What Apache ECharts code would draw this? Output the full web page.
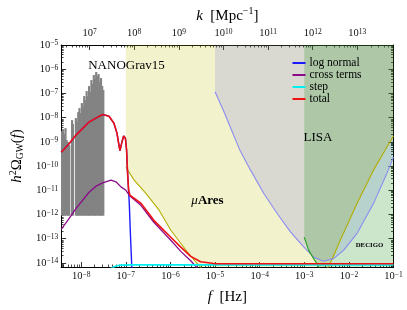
<!DOCTYPE html>
<html><head><meta charset="utf-8">
<script src="https://cdn.jsdelivr.net/npm/echarts@6/dist/echarts.min.js"></script>
<style>html,body{margin:0;padding:0;background:#fff}#c{width:407px;height:310px}</style>
</head><body><div id="c"></div>
<script>
// ---------------- data ----------------
const fRange = [3.55e-9, 0.1];
const omegaRange = [6.8e-15, 1e-5];
const kPerHz = 6.47e14; // k [Mpc^-1] = kPerHz * f [Hz]

const fTicks = [1e-8, 1e-7, 1e-6, 1e-5, 1e-4, 1e-3, 1e-2, 1e-1];
const kTicks = [1e7, 1e8, 1e9, 1e10, 1e11, 1e12, 1e13];
const omegaTicks = [1e-14, 1e-13, 1e-12, 1e-11, 1e-10, 1e-9, 1e-8, 1e-7, 1e-6, 1e-5];

const legendNames = ['log normal', 'cross terms', 'step', 'total'];

const totalF = [3.55e-9, 5.0e-9, 7.67e-9, 1.50e-8, 2.24e-8, 3.03e-8, 4.20e-8, 5.42e-8, 6.32e-8, 7.38e-8, 8.18e-8, 8.93e-8, 9.79e-8, 1.04e-7, 1.096e-7, 1.156e-7, 1.236e-7, 1.44e-7, 2.18e-7, 4.25e-7, 1.02e-6, 1.71e-6, 2.85e-6, 4.76e-6, 1.03e-5, 1.05e-4, 0.1];
const totalOmega = [3.7e-10, 7.2e-10, 1.9e-9, 6.6e-9, 1.0e-8, 1.35e-8, 1.15e-8, 5.9e-9, 2.3e-9, 4.3e-10, 9.8e-10, 1.74e-9, 1.41e-9, 4.6e-10, 5.1e-11, 1.0e-11, 6.3e-12, 5.1e-12, 2.95e-12, 5.75e-13, 1.15e-13, 4.5e-14, 1.86e-14, 1.12e-14, 9.3e-15, 9.3e-15, 9.3e-15];

const logNormalF = [3.55e-9, 5.0e-9, 7.67e-9, 1.50e-8, 2.24e-8, 3.03e-8, 4.20e-8, 5.42e-8, 6.32e-8, 7.38e-8, 8.18e-8, 8.93e-8, 9.79e-8, 1.04e-7, 1.096e-7, 1.156e-7, 1.20e-7, 1.25e-7, 1.30e-7, 1.35e-7, 1.40e-7];
const logNormalOmega = [3.7e-10, 7.2e-10, 1.9e-9, 6.6e-9, 1.0e-8, 1.35e-8, 1.15e-8, 5.9e-9, 2.3e-9, 4.3e-10, 9.8e-10, 1.74e-9, 1.41e-9, 4.6e-10, 5.1e-11, 9.5e-12, 2.5e-12, 3.2e-13, 5.0e-14, 1.0e-14, 1.6e-15];

const crossF = [3.55e-9, 5.01e-9, 7.67e-9, 1.52e-8, 2.15e-8, 3.03e-8, 4.65e-8, 6.01e-8, 7.78e-8, 1.007e-7, 1.236e-7, 2.18e-7, 4.25e-7, 1.02e-6, 1.71e-6, 2.85e-6, 4.08e-6, 7.98e-6];
const crossOmega = [2.45e-13, 5.75e-13, 1.78e-12, 8.5e-12, 1.48e-11, 2.04e-11, 2.63e-11, 2.24e-11, 1.38e-11, 1.0e-11, 5.8e-12, 2.4e-12, 4.8e-13, 8.7e-14, 3.0e-14, 1.23e-14, 6.0e-15, 1.2e-15];

const stepF = [2.78e-8, 4.65e-8, 5.15e-8, 6.32e-8, 7.78e-8, 1.30e-7, 0.1];
const stepOmega = [3.2e-15, 6.0e-15, 6.8e-15, 7.6e-15, 8.1e-15, 8.3e-15, 8.3e-15];

const muAresF = [1.0e-7, 1.54e-7, 2.82e-7, 5.58e-7, 1.02e-6, 2.40e-6, 3.69e-6, 4.76e-6, 1.0e-5, 1.0e-4, 1.0e-3, 3.52e-3, 6.41e-3, 1.51e-2, 3.56e-2, 6.5e-2, 0.1];
const muAresOmega = [8.9e-11, 2.63e-11, 7.4e-12, 1.51e-12, 2.24e-13, 2.82e-14, 1.10e-14, 6.6e-15, 2.5e-15, 1.2e-15, 1.5e-15, 6.8e-15, 8.7e-14, 2.8e-12, 6.8e-11, 4.6e-10, 1.74e-9];

const lisaF = [1.0e-5, 1.585e-5, 2.44e-5, 3.51e-5, 6.25e-5, 1.24e-4, 2.47e-4, 4.90e-4, 9.70e-4, 1.62e-3, 2.72e-3, 4.54e-3, 7.59e-3, 1.51e-2, 3.56e-2, 7.08e-2, 0.1];
const lisaOmega = [1.17e-7, 1.74e-8, 2.57e-9, 5.0e-10, 6.8e-11, 7.4e-12, 1.10e-12, 1.91e-13, 4.6e-14, 1.74e-14, 1.17e-14, 1.51e-14, 3.3e-14, 1.62e-13, 2.82e-12, 4.9e-11, 2.4e-10];

const decigoF = [1.0e-3, 1.26e-3, 1.62e-3, 1.93e-3, 2.29e-3, 5.0e-3, 2.0e-2, 0.1];
const decigoOmega = [1.15e-13, 3.3e-14, 1.51e-14, 9.3e-15, 5.0e-15, 2.0e-15, 1.0e-15, 1.5e-15];

const nanoF = [3.70e-9, 3.93e-9, 4.18e-9, 4.45e-9, 4.73e-9, 5.08e-9, 5.41e-9, 6.25e-9, 6.51e-9, 7.60e-9, 8.08e-9, 8.60e-9, 9.15e-9, 9.73e-9, 1.035e-8, 1.10e-8, 1.17e-8, 1.245e-8, 1.325e-8, 1.41e-8, 1.50e-8, 1.59e-8, 1.695e-8, 1.80e-8, 1.92e-8, 2.04e-8, 2.17e-8, 2.31e-8, 2.455e-8, 2.61e-8, 2.78e-8, 2.955e-8, 3.13e-8];
const nanoHigh = [2.77e-9, 3.36e-9, 2.08e-9, 3.69e-9, 1.18e-9, 9.7e-10, 7.3e-10, 7.9e-9, 5.4e-9, 9.6e-9, 6.55e-9, 1.69e-8, 2.48e-8, 1.54e-8, 3.99e-8, 2.73e-8, 7.78e-8, 5.31e-8, 1.25e-7, 7.78e-8, 2.01e-7, 1.14e-7, 3.57e-7, 2.44e-7, 5.74e-7, 3.93e-7, 7.64e-7, 5.22e-7, 6.32e-7, 2.95e-7, 4.31e-7, 2.01e-7, 1.38e-7];
const nanoLow = [9e-13, 9e-13, 9e-13, 9e-13, 9e-13, 9e-13, 9e-13, 9e-13, 9e-13, 9e-13, 9e-13, 9e-13, 9e-13, 9e-13, 9e-13, 9e-13, 9e-13, 9e-13, 9e-13, 9e-13, 9e-13, 9e-13, 9e-13, 9e-13, 9e-13, 9e-13, 9e-13, 9e-13, 9e-13, 9e-13, 9e-13, 9e-13, 9e-13];

// ---------------- rendering ----------------
const FONT = 'Liberation Serif';
const pairs = (xs, ys) => xs.map((x, i) => [x, ys[i]]);
const kRange = [fRange[0] * kPerHz, fRange[1] * kPerHz];

function sciLabel(v) {
  const e = Math.round(Math.log10(v));
  return '{b|10}{s|' + (e < 0 ? '\u2212' + (-e) : String(e)) + '}';
}
const tickRich = {
  b: { fontFamily: FONT, fontSize: 10.5, lineHeight: 11, verticalAlign: 'bottom', color: '#111' },
  s: { fontFamily: FONT, fontSize: 7.5, lineHeight: 8, padding: [0, 0, 5, 0], verticalAlign: 'top', color: '#111' }
};
function minorOf(majors, lo, hi) {
  const out = [];
  [majors[0] / 10].concat(majors).forEach(p => {
    for (let m = 2; m <= 9; m++) { const v = p * m; if (v > lo && v < hi) out.push(v); }
  });
  return out;
}
const nameRich = {
  n: { fontFamily: FONT, fontSize: 15, lineHeight: 17, verticalAlign: 'bottom', color: '#000' },
  i: { fontFamily: FONT, fontSize: 15, fontStyle: 'italic', lineHeight: 17, verticalAlign: 'bottom', color: '#000' },
  s: { fontFamily: FONT, fontSize: 10, lineHeight: 10, padding: [0, 0, 7, 0], verticalAlign: 'top', color: '#000' },
  sub: { fontFamily: FONT, fontSize: 9.5, lineHeight: 9, padding: [5, 0, 0, 0], verticalAlign: 'bottom', color: '#000' }
};

function majorAxis(position, range, ticks, showLabels, margin, name, nameGap) {
  return {
    type: 'log', position, min: range[0], max: range[1],
    axisLine: { show: true, lineStyle: { color: '#000', width: 1 } },
    axisTick: { show: true, inside: true, length: 5, customValues: ticks, lineStyle: { color: '#000', width: 0.8 } },
    minorTick: { show: false },
    axisLabel: { show: showLabels, customValues: ticks, formatter: sciLabel, rich: tickRich, margin },
    splitLine: { show: false },
    name: name || '', nameLocation: 'middle', nameGap: nameGap || 0,
    nameTextStyle: { rich: nameRich }
  };
}
function minorAxis(position, range, ticks) {
  return {
    type: 'log', position, min: range[0], max: range[1],
    axisLine: { show: false },
    axisTick: { show: true, inside: true, length: 2.5, customValues: minorOf(ticks, range[0], range[1]), lineStyle: { color: '#000', width: 0.7 } },
    minorTick: { show: false },
    axisLabel: { show: false },
    splitLine: { show: false }
  };
}

const chart = echarts.init(document.getElementById('c'), null, { renderer: 'canvas' });

const lineSeries = (name, xs, ys, color, width) => ({
  type: 'line', name, data: pairs(xs, ys), xAxisIndex: 0, yAxisIndex: 0,
  symbol: 'none', clip: true, silent: true, animation: false,
  lineStyle: { color, width }, itemStyle: { color }
});
const fillSeries = (name, xs, ys, fill) => ({
  type: 'line', name, data: pairs(xs, ys), xAxisIndex: 0, yAxisIndex: 0,
  symbol: 'none', clip: true, silent: true, animation: false,
  lineStyle: { width: 0, opacity: 0 }, areaStyle: { color: fill, origin: 'end', opacity: 1 }
});

chart.setOption({
  animation: false,
  backgroundColor: '#fff',
  grid: { left: 60, right: 13.5, top: 45, bottom: 43, containLabel: false },
  xAxis: [
    majorAxis('bottom', fRange, fTicks, true, 4, '{i|f}{n|  [Hz]}', 21),
    minorAxis('bottom', fRange, fTicks),
    majorAxis('top', kRange, kTicks, true, 6, '{i|k}{n|  [Mpc}{s|\u22121}{n|]}', 21),
    minorAxis('top', kRange, kTicks)
  ],
  yAxis: [
    majorAxis('left', omegaRange, omegaTicks, true, 3, '{i|h}{s|2}{n|\u03a9}{sub|GW}{n|(}{i|f}{n|)}', 33),
    minorAxis('left', omegaRange, omegaTicks),
    majorAxis('right', omegaRange, omegaTicks, false, 3),
    minorAxis('right', omegaRange, omegaTicks)
  ],
  legend: {
    data: legendNames, orient: 'vertical', left: 292.5, top: 57, padding: 0,
    itemGap: 0, itemWidth: 13, itemHeight: 2, icon: 'rect', selectedMode: false,
    textStyle: { fontFamily: FONT, fontSize: 11.5, color: '#000', lineHeight: 11.1, padding: [0, 0, 0, -1] }
  },
  series: [
    fillSeries('muAres region', muAresF, muAresOmega, 'rgba(190,190,0,0.2)'),
    fillSeries('LISA region', lisaF, lisaOmega, 'rgba(0,0,255,0.1)'),
    fillSeries('DECIGO region', decigoF, decigoOmega, 'rgba(0,128,0,0.2)'),
    {
      type: 'custom', name: 'NANOGrav15', xAxisIndex: 0, yAxisIndex: 0, clip: true, silent: true,
      data: nanoF.map((f, i) => [f, nanoLow[i], nanoHigh[i]]),
      encode: { x: 0, y: [1, 2] },
      renderItem: (params, api) => {
        const top = api.coord([api.value(0), api.value(2)]);
        const bot = api.coord([api.value(0), api.value(1)]);
        return { type: 'rect', shape: { x: top[0] - 1.1, y: top[1], width: 2.2, height: bot[1] - top[1] }, style: { fill: '#838383' } };
      }
    },
    lineSeries('muAres', muAresF, muAresOmega, '#b3ad00', 1.1),
    lineSeries('LISA', lisaF, lisaOmega, '#8c8cf0', 1.1),
    lineSeries('DECIGO', decigoF, decigoOmega, '#2fa52a', 1.2),
    lineSeries('log normal', logNormalF, logNormalOmega, '#1a1aff', 1.4),
    lineSeries('cross terms', crossF, crossOmega, '#8a0a8a', 1.3),
    lineSeries('step', stepF, stepOmega, '#00f0f0', 1.6),
    lineSeries('total', totalF, totalOmega, '#f01010', 1.6)
  ],
  graphic: [
    { type: 'text', x: 126.5, y: 66, z: 100, style: { text: 'NANOGrav15', font: '13px "Liberation Serif"', fill: '#000', align: 'center', verticalAlign: 'middle' } },
    { type: 'text', x: 207.5, y: 201, z: 100, style: { text: '{i|\u03bc}{b|Ares}', align: 'center', verticalAlign: 'middle',
      rich: { i: { fontFamily: FONT, fontStyle: 'italic', fontSize: 13, fill: '#000' }, b: { fontFamily: FONT, fontWeight: 'bold', fontSize: 13, fill: '#000' } } } },
    { type: 'text', x: 318, y: 137.5, z: 100, style: { text: 'LISA', font: '13px "Liberation Serif"', fill: '#000', align: 'center', verticalAlign: 'middle' } },
    { type: 'text', x: 369.5, y: 245, z: 100, style: { text: 'DECIGO', font: 'bold 6.8px "Liberation Serif"', fill: '#000', align: 'center', verticalAlign: 'middle' } }
  ]
});
</script></body></html>
